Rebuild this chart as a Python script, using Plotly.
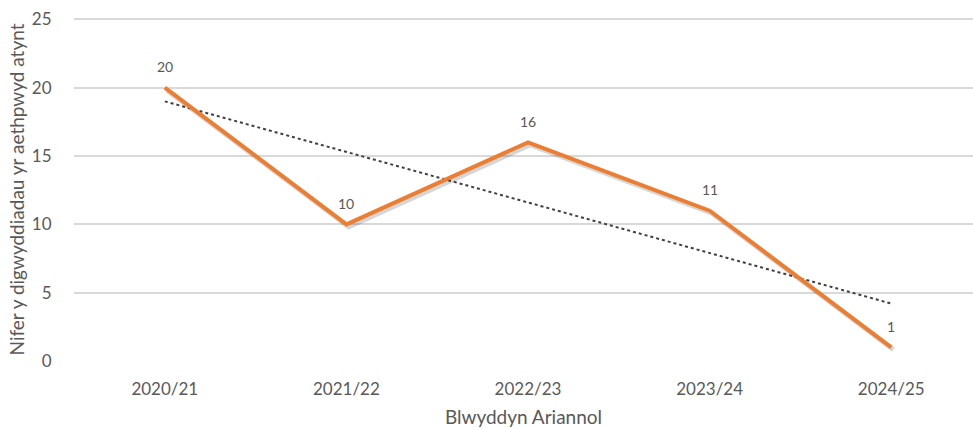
import numpy as np
import plotly.graph_objects as go

years = ["2020/21", "2021/22", "2022/23", "2023/24", "2024/25"]
incidents = [20, 10, 16, 11, 1]
y_ticks = [0, 5, 10, 15, 20, 25]

# Linear trendline (least squares) as in the original chart
xi = np.arange(len(years))
slope, intercept = np.polyfit(xi, incidents, 1)
trend = list(intercept + slope * xi)

FONT = "Lato"
GREY = "#595959"
ORANGE = "#ED7D31"

fig = go.Figure()

# trendline on the main axes
fig.add_trace(go.Scatter(x=years, y=trend, mode="lines",
                         line=dict(color="#404040", width=2, dash="dot"), showlegend=False))

# soft shadow of the main line (drawn on slightly offset axes, beneath the line)
fig.add_trace(go.Scatter(x=years, y=incidents, mode="lines",
                         line=dict(color="rgba(0,0,0,0.16)", width=5),
                         xaxis="x2", yaxis="y2", hoverinfo="skip", showlegend=False))

fig.add_trace(go.Scatter(x=years, y=incidents, mode="lines",
                         line=dict(color=ORANGE, width=4), showlegend=False,
                         xaxis="x3", yaxis="y3"))

for yr, v in zip(years, incidents):
    fig.add_annotation(x=yr, y=v, xref="x", yref="y", text=str(v), showarrow=False, yshift=21,
                       font=dict(family=FONT, size=14, color=GREY))

xr = [-0.5, 4.45]
yr_ = [-0.002, 25.1]
fig.update_layout(
    width=973, height=428,
    margin=dict(l=74, r=0, t=18, b=67),
    paper_bgcolor="white", plot_bgcolor="white",
    font=dict(family=FONT, color=GREY),
    xaxis=dict(type="category", range=xr, showgrid=False, showline=False, zeroline=False,
               ticks="outside", ticklen=13, tickcolor="rgba(0,0,0,0)",
               tickfont=dict(size=17, color=GREY),
               title=dict(text="Blwyddyn Ariannol", font=dict(size=19, color=GREY), standoff=12)),
    yaxis=dict(range=yr_, tickvals=y_ticks, showgrid=True, gridcolor="#d9d9d9", gridwidth=1.5,
               zeroline=False, showline=False,
               ticks="outside", ticklen=18, tickcolor="rgba(0,0,0,0)",
               tickfont=dict(size=17, color=GREY),
               title=dict(text="Nifer y digwyddiadau yr aethpwyd atynt",
                          font=dict(size=19, color=GREY), standoff=2)),
    xaxis2=dict(type="category", range=[xr[0] - 0.012, xr[1] - 0.012], overlaying="x",
                visible=False),
    yaxis2=dict(range=[yr_[0] + 0.18, yr_[1] + 0.18], overlaying="y", visible=False),
    xaxis3=dict(type="category", range=xr, overlaying="x", visible=False),
    yaxis3=dict(range=yr_, overlaying="y", visible=False),
)

fig.write_html("out.html", config={"displayModeBar": False},
               post_script="document.body.style.margin='0';")
